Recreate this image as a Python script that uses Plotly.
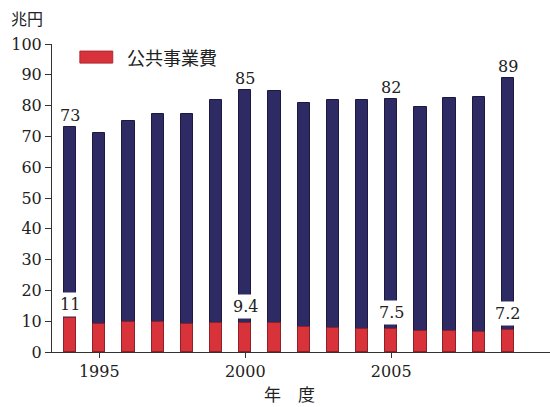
import plotly.graph_objects as go

# 年度別の一般会計予算総額と公共事業費（兆円）
years = list(range(1994, 2010))
total = [73, 71.0, 75.1, 77.4, 77.4, 81.7, 85, 84.8, 81.0, 81.8, 81.8, 82, 79.5, 82.6, 82.8, 89]
public_works = [11, 9.0, 9.8, 9.7, 9.0, 9.4, 9.4, 9.3, 8.2, 7.9, 7.4, 7.5, 6.8, 6.7, 6.4, 7.2]

labeled_years = [1994, 2000, 2005, 2009]
x_ticks = [1995, 2000, 2005]
y_ticks = list(range(0, 101, 10))

NAVY = "#2e2a64"
RED = "#d8333b"
SERIF = "DejaVu Serif, Liberation Serif, serif"
JP = "Noto Sans CJK JP, sans-serif"

fig = go.Figure()
fig.add_trace(go.Bar(
    x=years, y=total, width=0.42, marker=dict(color=NAVY, line=dict(color="#1c1840", width=1)),
    showlegend=False, hoverinfo="x+y"))
fig.add_trace(go.Bar(
    x=years, y=public_works, width=0.42, marker=dict(color=RED, line=dict(color="#8e2028", width=1)),
    name="公共事業費", showlegend=False, hoverinfo="x+y"))

annotations = []
for yr in labeled_years:
    i = years.index(yr)
    # total value above the bar
    annotations.append(dict(x=yr, y=total[i], text=f"{total[i]:g}", showarrow=False,
                            yanchor="bottom", yshift=0, font=dict(family=SERIF, size=16, color="#222")))
    # public-works value on a white patch just above the red segment
    annotations.append(dict(x=yr, y=public_works[i], text=f"{public_works[i]:g}", showarrow=False,
                            yanchor="bottom", yshift=1 if yr == 1994 else 4, bgcolor="white",
                            borderpad=2, font=dict(family=SERIF, size=16, color="#222")))

annotations += [
    dict(xref="paper", yref="paper", x=-0.086, y=1.084, text="兆円", showarrow=False,
         xanchor="left", yanchor="middle", font=dict(family=JP, size=16, color="#222")),
    dict(xref="paper", yref="paper", x=0.477, y=-0.135, text="年　度", showarrow=False,
         xanchor="center", yanchor="middle", font=dict(family=JP, size=17, color="#222")),
    dict(xref="paper", yref="paper", x=0.146, y=0.957, text="公共事業費", showarrow=False,
         xanchor="left", yanchor="middle", font=dict(family=JP, size=18, color="#222")),
]

fig.update_layout(
    width=550, height=407,
    margin=dict(l=52, r=0, t=44, b=55),
    paper_bgcolor="white", plot_bgcolor="white",
    barmode="overlay", bargap=0,
    annotations=annotations,
    shapes=[dict(type="rect", xref="paper", yref="paper", x0=0.056, x1=0.122, y0=0.938, y1=0.977,
                 fillcolor=RED, line=dict(color="#b0262e", width=1))],
    xaxis=dict(range=[1993.38, 2010.44], tickmode="array", tickvals=x_ticks,
               ticks="outside", ticklen=5, tickcolor="#333", showline=True, linecolor="#333",
               linewidth=1, showgrid=False, zeroline=False,
               tickfont=dict(family=SERIF, size=16, color="#222")),
    yaxis=dict(range=[0, 100], tickmode="array", tickvals=y_ticks,
               ticks="outside", ticklen=6, tickcolor="#333", showline=True, linecolor="#333",
               linewidth=1, showgrid=False, zeroline=False,
               tickfont=dict(family=SERIF, size=16, color="#222")),
)

fig.write_html("out.html")
